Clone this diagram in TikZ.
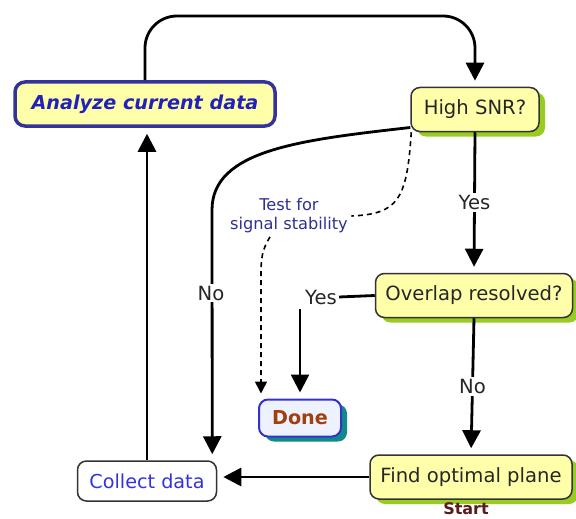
\documentclass[tikz,border=0pt]{standalone}
\usepackage{fontspec}
\setmainfont{DejaVu Sans}
\usetikzlibrary{arrows.meta,shadows,calc}
\definecolor{yel}{HTML}{FFFFAA}
\definecolor{shgreen}{HTML}{99CC22}
\definecolor{anborder}{HTML}{333399}
\definecolor{antext}{HTML}{2222BB}
\definecolor{boxline}{HTML}{333333}
\definecolor{donefill}{HTML}{EEF2FF}
\definecolor{doneborder}{HTML}{3333CC}
\definecolor{teal2}{HTML}{138A8A}
\definecolor{donetext}{HTML}{A04010}
\definecolor{starttext}{HTML}{5C1A1A}
\definecolor{testtext}{HTML}{2E3192}
\definecolor{collecttext}{HTML}{3333DD}
\tikzset{
  ybox/.style={draw=boxline, line width=1.5pt, rounded corners=9pt, fill=yel,
    minimum height=44pt, font=\fontsize{19.6}{22}\selectfont, text=black!85,
    drop shadow={fill=shgreen, opacity=1, shadow xshift=6pt, shadow yshift=-5pt}},
  arr/.style={line width=2.8pt, -{Triangle[width=18pt,length=18pt]}, shorten >=6pt},
  dsh/.style={line width=1.6pt, dash pattern=on 5pt off 4pt},
  lab/.style={font=\fontsize{19.6}{22}\selectfont, fill=white, inner sep=2pt, text=black!85},
}
\begin{document}
\begin{tikzpicture}[x=1pt,y=-1pt]
\useasboundingbox (0,0) rectangle (576,519);
\fill[white] (0,0) rectangle (576,519);
% nodes
\node[draw=anborder, line width=3.5pt, rounded corners=10pt, fill=yel,
  minimum width=260pt, minimum height=44pt, text=antext,
  font=\fontsize{19.2}{22}\selectfont\bfseries\itshape] (analyze) at (145,104) {Analyze current data};
\node[ybox, minimum width=128pt] (snr) at (475,109.5) {High SNR?};
\node[ybox, minimum width=197pt] (ov) at (474,295.5) {Overlap resolved?};
\node[ybox, minimum width=202pt] (find) at (471,477) {Find optimal plane};
\node[draw=doneborder, line width=2pt, rounded corners=9pt, fill=donefill,
  minimum width=82pt, minimum height=37pt, text=donetext,
  font=\fontsize{19.2}{22}\selectfont\bfseries,
  drop shadow={fill=teal2, opacity=1, shadow xshift=6pt, shadow yshift=-5pt}] (done) at (300,418) {Done};
\node[draw=boxline, line width=1.5pt, rounded corners=9pt, fill=white,
  minimum width=139pt, minimum height=40pt, text=collecttext,
  font=\fontsize{19.2}{22}\selectfont] (collect) at (147,481) {Collect data};
\node[text=starttext, font=\fontsize{16}{18}\selectfont\bfseries, inner sep=0pt] (start) at (466,509) {Start};
\node[text=testtext, align=center, font=\fontsize{16.2}{19}\selectfont] (test) at (289,216) {Test for\\signal stability};
\coordinate (topy) at (0,16);
% connectors
\draw[arr, rounded corners=32pt] (analyze.north) |- (snr.north |- topy) -- (snr.north);
\draw[arr] (snr.south) -- node[lab] (yes1) {Yes} (ov.north);
\draw[arr] (ov.south) -- node[lab] (no2) {No} (find.north);
\draw[arr] (find.west) -- (find.west -| collect.east);
\draw[arr] (collect.north) -- (collect.north |- analyze.south);
\draw[arr] ([yshift=-18pt]snr.west) .. controls (300,140) and (212,150) .. (212,210) -- ([xshift=-5pt]collect.north east);
\node[lab] (no1) at (211,293) {No};
\node[lab] (yes2) at (321,297) {Yes};
\draw[line width=2.8pt] (ov.west) -- (yes2.east);
\draw[arr] ([yshift=-3pt]yes2.south -| done.north) -- (done.north);
\draw[dsh] ([xshift=1pt]snr.south west) .. controls (407,200) and (398,214) .. (test.east);
\draw[dsh, -{Triangle[width=12pt,length=12pt]}, shorten >=5pt] ([xshift=-19pt]test.south) .. controls (262,250) and (261,258) .. (261,275) -- ([xshift=-39pt]done.north);
\end{tikzpicture}
\end{document}
